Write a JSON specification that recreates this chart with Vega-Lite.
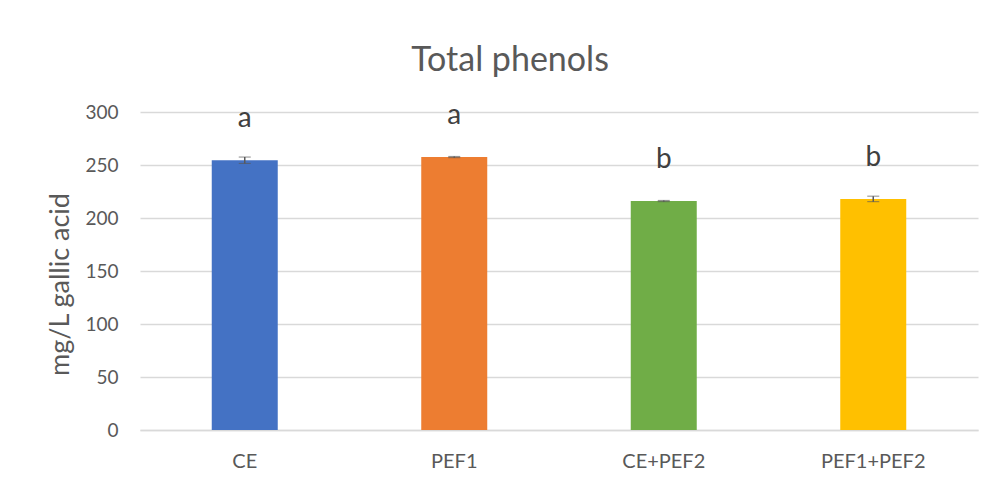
{
  "$schema": "https://vega.github.io/schema/vega-lite/v6.json",
  "width": 838,
  "height": 318,
  "autosize": {"type": "none"},
  "padding": {"left": 140, "top": 112, "right": 17, "bottom": 52},
  "background": "white",
  "config": {
    "view": {"stroke": null},
    "font": "Lato",
    "axisY": {"titleFontSize": 27, "titleFontWeight": "normal", "titleColor": "#595959", "titlePadding": 10, "titleY": 172, "labelFontSize": 19, "labelColor": "#595959", "labelPadding": 22, "ticks": false, "domain": false, "gridColor": "#d9d9d9", "gridWidth": 1.5}
  },
  "title": {"text": "Total phenols", "fontSize": 34, "font": "Lato", "fontWeight": "normal", "color": "#595959", "anchor": "middle", "dx": -49, "offset": 24},
  "data": {"values": [
    {"group": "CE", "value": 254.5, "err": 3.0, "letter": "a"},
    {"group": "PEF1", "value": 257.5, "err": 0.6, "letter": "a"},
    {"group": "CE+PEF2", "value": 216, "err": 0.6, "letter": "b"},
    {"group": "PEF1+PEF2", "value": 218, "err": 2.6, "letter": "b"}
  ]},
  "encoding": {
    "x": {"field": "group", "type": "nominal", "sort": null,
      "scale": {"paddingInner": 0, "paddingOuter": 0},
      "axis": {"title": null, "labelAngle": 0, "labelFontSize": 20, "labelColor": "#595959", "labelPadding": 21, "ticks": false, "domainColor": "#d9d9d9", "domainWidth": 1.5, "grid": false}}
  },
  "layer": [
    {
      "mark": {"type": "bar", "width": {"band": 0.315}},
      "encoding": {
        "y": {"field": "value", "type": "quantitative", "scale": {"domain": [0, 300]},
          "title": "mg/L gallic acid",
          "axis": {"values": [0, 50, 100, 150, 200, 250, 300]}},
        "color": {"field": "group", "type": "nominal", "sort": null, "legend": null,
          "scale": {"domain": ["CE", "PEF1", "CE+PEF2", "PEF1+PEF2"], "range": ["#4472C4", "#ED7D31", "#70AD47", "#FFC000"]}}
      }
    },
    {
      "mark": {"type": "errorbar", "ticks": {"size": 12, "color": "#595959", "strokeWidth": 1.5}, "rule": {"color": "#595959", "strokeWidth": 1.5}},
      "encoding": {
        "y": {"field": "value", "type": "quantitative", "title": "mg/L gallic acid"},
        "yError": {"field": "err"}
      }
    },
    {
      "mark": {"type": "text", "fontSize": 28, "color": "#404040", "baseline": "middle", "dy": -41},
      "encoding": {
        "y": {"field": "value", "type": "quantitative", "title": "mg/L gallic acid"},
        "text": {"field": "letter"}
      }
    }
  ]
}
